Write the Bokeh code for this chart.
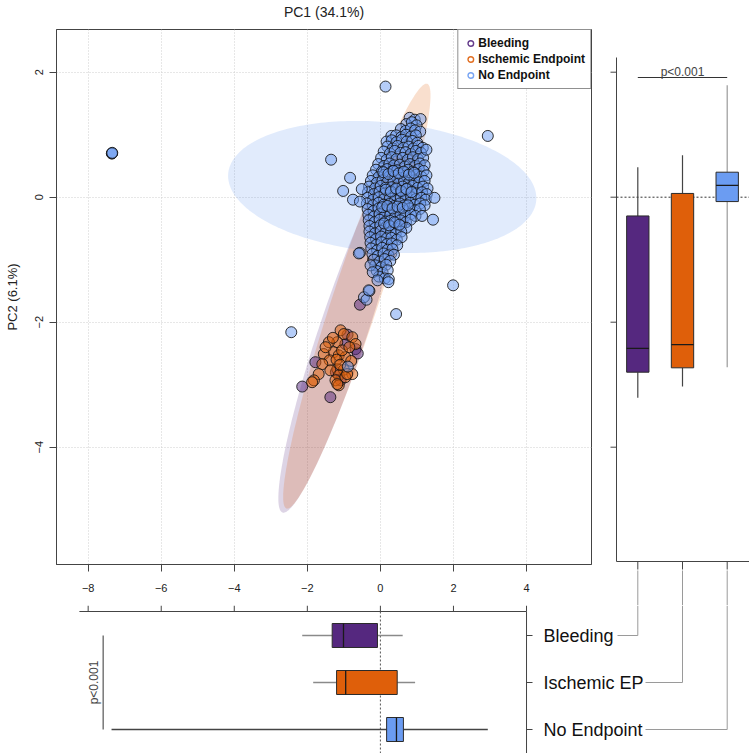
import numpy as np
from bokeh.plotting import figure
from bokeh.models import Range1d, FixedTicker, LinearAxis, Legend, LegendItem
from bokeh.layouts import column, row
from bokeh.embed import file_html
from bokeh.resources import INLINE
from bokeh.core.properties import value

FONT = "Liberation Sans"

# ---------------- data ----------------
groups = ["Bleeding", "Ischemic Endpoint", "No Endpoint"]
short_labels = ["Bleeding", "Ischemic EP", "No Endpoint"]
colors = ["#55287f", "#df5f0a", "#6b9cf2"]

bleed_pc1 = [-0.56, -0.96, -0.68, -1.78, -2.14, -1.37, -1.09, -0.62, -1.22, -0.90,
             0.05, 0.35, -0.10, 0.55]
bleed_pc2 = [-1.72, -2.35, -2.43, -2.64, -3.03, -3.20, -2.93, -2.50, -2.80, -2.20,
             -0.25, 0.45, -0.60, 0.10]

isch_pc1 = [-1.09, -1.00, -0.77, -0.68, -1.18, -1.41, -1.28, -1.55, -1.14, -0.96,
            -1.39, -1.59, -1.18, -1.37, -1.00, -0.77, -1.14, -1.69, -1.82, -1.87,
            -1.23, -1.14, -0.96, -1.05, -1.20, -1.10, -0.85, -1.30, -0.80, -1.50,
            -0.91, -1.18,
            0.20, 0.50, 0.40, 0.70, 0.00, 0.30, 0.90, 0.60, 0.10, -0.20, 0.45, 0.80]
isch_pc2 = [-2.13, -2.19, -2.24, -2.35, -2.32, -2.32, -2.48, -2.51, -2.53, -2.56,
            -2.61, -2.67, -2.75, -2.77, -2.76, -2.83, -2.85, -2.83, -2.93, -2.96,
            -2.93, -3.01, -2.88, -2.45, -2.60, -2.68, -2.40, -2.25, -2.62, -2.40,
            -2.83, -2.99,
            0.30, 0.60, -0.20, 0.10, -0.50, -0.90, 0.50, -0.40, 0.05, -1.00, 0.20, 0.65]

none_pc1 = [
    0.80, 0.94, 1.10,
    0.71, 0.86, 0.99,
    0.56, 0.69, 0.83, 0.95, 1.09,
    0.30, 0.43, 0.57, 0.70, 0.84, 0.97,
    0.17, 0.31, 0.44, 0.59, 0.72, 0.87, 1.01,
    0.19, 0.34, 0.47, 0.63, 0.77, 0.90, 1.04, 1.16,
    0.09, 0.26, 0.39, 0.55, 0.69, 0.83, 0.97, 1.11,
    0.02, 0.17, 0.31, 0.44, 0.61, 0.75, 0.89, 1.03, 1.17,
    -0.06, 0.10, 0.25, 0.37, 0.53, 0.67, 0.81, 0.95, 1.08, 1.21,
    -0.12, 0.04, 0.18, 0.33, 0.46, 0.62, 0.76, 0.89, 1.05, 1.18,
    -0.21, -0.05, 0.11, 0.24, 0.41, 0.55, 0.71, 0.84, 0.99, 1.12, 1.26,
    -0.26, -0.10, 0.06, 0.19, 0.36, 0.50, 0.65, 0.78, 0.93, 1.06, 1.21,
    -0.31, -0.15, 0.01, 0.14, 0.31, 0.45, 0.61, 0.73, 0.89, 1.02, 1.17, 1.29,
    -0.34, -0.18, -0.02, 0.12, 0.28, 0.42, 0.58, 0.71, 0.86, 0.99, 1.14, 1.27,
    -0.36, -0.20, -0.04, 0.10, 0.26, 0.40, 0.56, 0.69, 0.84, 0.97, 1.12, 1.24,
    -0.37, -0.21, -0.05, 0.09, 0.25, 0.38, 0.53, 0.66, 0.81, 0.94, 1.09, 1.21,
    -0.35, -0.19, -0.05, 0.11, 0.24, 0.39, 0.52, 0.67, 0.80, 0.95, 1.08,
    -0.33, -0.18, -0.02, 0.12, 0.27, 0.40, 0.55, 0.68, 0.83, 0.96,
    -0.32, -0.16, -0.02, 0.14, 0.27, 0.42, 0.55, 0.70, 0.83,
    -0.30, -0.14, 0.00, 0.15, 0.28, 0.43, 0.56, 0.71,
    -0.30, -0.15, 0.01, 0.14, 0.29, 0.42, 0.57,
    -0.28, -0.12, 0.02, 0.17, 0.30, 0.45, 0.58,
    -0.27, -0.11, 0.03, 0.18, 0.31, 0.46,
    -0.25, -0.09, 0.05, 0.20, 0.33,
    -0.22, -0.07, 0.09, 0.22, 0.37,
    -0.18, -0.02, 0.12, 0.27,
    -0.14, 0.02, 0.16,
    -0.10, 0.06, 0.20,
    -0.04, 0.12,
    0.08, 0.22, 0.36, 0.50, 0.64, 0.78, 0.92, 0.15, 0.29, 0.43, 0.57, 0.71, 0.85,
    0.05, 0.19, 0.33, 0.47, 0.61, 0.75, 0.10, 0.24, 0.38, 0.52,
    -7.35, -7.35, -7.34, 0.14, 2.94, 1.99, 0.43, -2.44, -1.35, -0.83, -1.02,
    -0.75, -0.56, -0.51, -0.56, -0.27, -0.21, 0.23, 1.26, 1.48, 1.44, 1.14,
    -0.30, -0.45, -0.38, -0.08, 0.22, -0.89, -0.32, -0.59,
]
none_pc2 = [
    1.27, 1.24, 1.25,
    1.17, 1.20, 1.15,
    1.09, 1.06, 1.10, 1.07, 1.05,
    0.98, 0.99, 0.96, 1.00, 0.97, 0.99,
    0.89, 0.91, 0.88, 0.92, 0.89, 0.90, 0.87,
    0.81, 0.78, 0.82, 0.79, 0.81, 0.78, 0.82, 0.79,
    0.73, 0.70, 0.74, 0.71, 0.72, 0.69, 0.74, 0.71,
    0.63, 0.60, 0.64, 0.61, 0.63, 0.60, 0.64, 0.61, 0.63,
    0.53, 0.50, 0.54, 0.51, 0.52, 0.49, 0.53, 0.50, 0.54, 0.51,
    0.44, 0.41, 0.45, 0.42, 0.43, 0.40, 0.44, 0.41, 0.45, 0.42,
    0.35, 0.32, 0.36, 0.33, 0.34, 0.31, 0.35, 0.32, 0.36, 0.33, 0.35,
    0.26, 0.23, 0.27, 0.24, 0.25, 0.22, 0.26, 0.23, 0.27, 0.24, 0.26,
    0.17, 0.14, 0.18, 0.15, 0.16, 0.13, 0.17, 0.14, 0.18, 0.15, 0.17, 0.14,
    0.08, 0.05, 0.09, 0.06, 0.07, 0.04, 0.08, 0.05, 0.09, 0.06, 0.08, 0.05,
    -0.01, -0.04, 0.00, -0.03, -0.02, -0.05, -0.01, -0.04, 0.00, -0.03, -0.01, -0.04,
    -0.10, -0.13, -0.09, -0.12, -0.11, -0.14, -0.10, -0.13, -0.09, -0.12, -0.10, -0.13,
    -0.19, -0.22, -0.18, -0.21, -0.20, -0.23, -0.19, -0.22, -0.18, -0.21, -0.19,
    -0.28, -0.31, -0.27, -0.30, -0.29, -0.32, -0.28, -0.31, -0.27, -0.30,
    -0.37, -0.40, -0.36, -0.39, -0.38, -0.41, -0.37, -0.40, -0.36,
    -0.46, -0.49, -0.45, -0.48, -0.47, -0.50, -0.46, -0.49,
    -0.55, -0.58, -0.54, -0.57, -0.56, -0.59, -0.55,
    -0.64, -0.67, -0.63, -0.66, -0.65, -0.68, -0.64,
    -0.73, -0.76, -0.72, -0.75, -0.74, -0.77,
    -0.82, -0.85, -0.81, -0.84, -0.83,
    -0.91, -0.94, -0.90, -0.93, -0.92,
    -1.00, -1.03, -0.99, -1.02,
    -1.09, -1.12, -1.08,
    -1.18, -1.21, -1.17,
    -1.27, -1.30,
    0.40, 0.37, 0.42, 0.38, 0.41, 0.36, 0.39, 0.12, 0.09, 0.14, 0.10, 0.13, 0.08,
    -0.16, -0.14, -0.18, -0.15, -0.17, -0.13, -0.42, -0.45, -0.40, -0.44,
    0.70, 0.70, 0.71, 1.77, 0.98, -1.41, -1.87, -2.16, 0.60, 0.31, 0.10,
    -0.04, -0.07, 0.13, -0.89, -1.09, -1.20, -1.31, 0.76, -0.01, -0.36, -0.30,
    -1.50, -1.60, -1.64, -1.33, -1.36, -2.71, -1.49, -0.90,
]

# box statistics: whisker low, Q1, median, Q3, whisker high
pc1_lo = [-2.14, -1.84, -7.36]
pc1_q1 = [-1.32, -1.20, 0.17]
pc1_med = [-1.01, -0.95, 0.44]
pc1_q3 = [-0.08, 0.46, 0.63]
pc1_hi = [0.61, 0.95, 2.94]

pc2_lo = [-3.21, -3.03, -2.72]
pc2_q1 = [-2.80, -2.73, -0.07]
pc2_med = [-2.42, -2.36, 0.19]
pc2_q3 = [-0.30, 0.06, 0.40]
pc2_hi = [0.48, 0.67, 1.79]

# confidence ellipses: centre and two conjugate semi-axis vectors (data units)
ell_cx = [-1.024, -0.645, 0.050]
ell_cy = [-2.149, -1.583, 0.163]
ell_ux = [1.656, 1.926, 4.216]
ell_uy = [2.896, 3.398, -0.216]
ell_vx = [0.624, 0.598, -0.155]
ell_vy = [-0.122, -0.116, -1.035]

x_ticks = [-8, -6, -4, -2, 0, 2, 4]
y_ticks = [-4, -2, 0, 2]
p_text = "p<0.001"

# ---------------- layout calibration (page pixels) ----------------
PX_X0, PX_PER_X = 379.9, 36.53
PX_Y0, PX_PER_Y = 196.7, 62.5


def xdat(px):
    return (px - PX_X0) / PX_PER_X


def ydat(py):
    return (PX_Y0 - py) / PX_PER_Y


CAT_PX1, CAT_STEP = 637.3, 44.7     # right boxplot category spacing
ROW_PX1, ROW_STEP = 635.0, 47.0     # bottom boxplot row spacing


def cat_of(px):
    return 1 + (px - CAT_PX1) / CAT_STEP


def row_of(py):
    return 1 + (py - ROW_PX1) / ROW_STEP


AXIS_COLOR = "#444444"
TEXT_COLOR = "#222222"
CONN_COLOR = "#9a9a9a"
SPLIT_Y = 605          # page row where the top row of panels ends
RIGHT_X = 607          # page column where the right panel starts
PAGE_W, PAGE_H = 749, 753

# ---------------- main PCA scatter ----------------
p = figure(frame_width=591 - 56, frame_height=564 - 29, output_backend="svg",
           toolbar_location=None,
           x_range=Range1d(xdat(56), xdat(591)), y_range=Range1d(ydat(564), ydat(29)),
           min_border_left=56, min_border_right=RIGHT_X - 591, min_border_top=29,
           min_border_bottom=SPLIT_Y - 564)

p.outline_line_color = AXIS_COLOR
p.outline_line_alpha = 1
p.xaxis.ticker = FixedTicker(ticks=x_ticks)
p.yaxis.ticker = FixedTicker(ticks=y_ticks)
for ax in (p.xaxis, p.yaxis):
    ax.axis_line_color = AXIS_COLOR
    ax.major_tick_line_color = AXIS_COLOR
    ax.minor_tick_line_color = None
    ax.major_tick_out = 7
    ax.major_tick_in = 0
    ax.major_label_text_font = FONT
    ax.major_label_text_font_size = "11px"
    ax.major_label_text_color = TEXT_COLOR
p.xaxis.major_label_standoff = 12
p.yaxis.major_label_standoff = 6
p.yaxis.major_label_orientation = "vertical"
p.yaxis.axis_label = "PC2 (6.1%)"
p.yaxis.axis_label_text_font = FONT
p.yaxis.axis_label_text_font_size = "13px"
p.yaxis.axis_label_text_font_style = "normal"
p.yaxis.axis_label_text_color = TEXT_COLOR
p.yaxis.axis_label_standoff = 13

top_axis = LinearAxis(ticker=FixedTicker(ticks=[]), axis_line_color=None,
                      major_tick_line_color=None, minor_tick_line_color=None,
                      axis_label="PC1 (34.1%)", axis_label_text_font=FONT,
                      axis_label_text_font_size="14px", axis_label_text_font_style="normal",
                      axis_label_text_color=TEXT_COLOR, axis_label_standoff=10)
p.add_layout(top_axis, "above")

p.grid.grid_line_color = "#cfcfcf"
p.grid.grid_line_dash = "1 2"
p.grid.grid_line_width = 1

t = np.linspace(0, 2 * np.pi, 241)
for i in range(3):
    ex = ell_cx[i] + ell_ux[i] * np.cos(t) + ell_vx[i] * np.sin(t)
    ey = ell_cy[i] + ell_uy[i] * np.cos(t) + ell_vy[i] * np.sin(t)
    p.patch(ex, ey, fill_color=colors[i], fill_alpha=0.2, line_color=None)

point_sets = [(bleed_pc1, bleed_pc2), (isch_pc1, isch_pc2), (none_pc1, none_pc2)]
legend_items = []
for i, (xs, ys) in enumerate(point_sets):
    p.scatter(xs, ys, marker="circle", size=11, fill_color=colors[i], fill_alpha=0.5,
              line_color="#111111", line_alpha=0.85, line_width=1)
    # hollow legend key (zero-size markers, so nothing extra shows in the plot)
    key = p.scatter(xs, ys, marker="circle", size=0, fill_color=None, line_color=colors[i],
                    line_width=1.4, line_alpha=0.9)
    legend_items.append(LegendItem(label=groups[i], renderers=[key]))

legend = Legend(items=legend_items, location="top_right", margin=0, padding=5, spacing=0,
                glyph_width=14, glyph_height=16, label_height=16, label_standoff=1,
                label_text_font=FONT, label_text_font_size="12px",
                label_text_font_style="bold", label_text_color="#111111",
                border_line_color="#222222", border_line_width=1,
                background_fill_color="white", background_fill_alpha=1)
p.add_layout(legend)

# ---------------- right: PC2 boxplots ----------------
pr = figure(frame_width=PAGE_W - RIGHT_X, frame_height=SPLIT_Y, output_backend="svg",
            toolbar_location=None, title=None,
            x_range=Range1d(cat_of(RIGHT_X), cat_of(PAGE_W)),
            y_range=Range1d(ydat(SPLIT_Y), ydat(0)),
            x_axis_location=None, y_axis_location=None,
            min_border=0, min_border_left=0, min_border_right=0,
            min_border_top=0, min_border_bottom=0)
pr.outline_line_color = None
pr.grid.visible = False

cat_idx = [1, 2, 3]
BOX_W = 0.50
ax_x = cat_of(616)
base_y = ydat(561)
# axis lines and ticks (left and bottom of the panel)
pr.segment(x0=[ax_x], y0=[base_y], x1=[ax_x], y1=[ydat(57)], line_color=AXIS_COLOR)
pr.segment(x0=[cat_of(610)] * 4, y0=y_ticks, x1=[ax_x] * 4, y1=y_ticks, line_color=AXIS_COLOR)
pr.segment(x0=[ax_x], y0=[base_y], x1=[cat_of(PAGE_W)], y1=[base_y], line_color=AXIS_COLOR)
pr.segment(x0=cat_idx, y0=[base_y] * 3, x1=cat_idx, y1=[ydat(569)] * 3, line_color=AXIS_COLOR)
pr.segment(x0=cat_idx, y0=[ydat(570)] * 3, x1=cat_idx, y1=[ydat(SPLIT_Y)] * 3,
           line_color=CONN_COLOR)
# zero reference
pr.segment(x0=[ax_x], y0=[0], x1=[cat_of(PAGE_W)], y1=[0], line_color="#333333",
           line_dash="2 2", line_width=1)

whisk_v = ["#444444", "#444444", "#9a9a9a"]
pr.segment(x0=cat_idx, y0=pc2_q3, x1=cat_idx, y1=pc2_hi, line_color=whisk_v, line_width=1.2)
pr.segment(x0=cat_idx, y0=pc2_lo, x1=cat_idx, y1=pc2_q1, line_color=whisk_v, line_width=1.2)
pr.vbar(x=cat_idx, bottom=pc2_q1, top=pc2_q3, width=BOX_W, fill_color=colors,
        line_color="#2b2b2b", line_width=1)
pr.segment(x0=[c - BOX_W / 2 for c in cat_idx], y0=pc2_med,
           x1=[c + BOX_W / 2 for c in cat_idx], y1=pc2_med, line_color="#1a1a1a", line_width=1.3)
p_y = ydat(77)
pr.segment(x0=[1], y0=[p_y], x1=[3], y1=[p_y], line_color="#333333", line_width=1)
pr.text(x=[2], y=[p_y], text=[p_text], text_align="center", text_baseline="bottom",
        y_offset=1, text_font=value(FONT), text_font_size="12px", text_color="#444444")

# ---------------- bottom: PC1 boxplots ----------------
pb = figure(frame_width=PAGE_W, frame_height=PAGE_H - SPLIT_Y, output_backend="svg",
            toolbar_location=None, title=None,
            x_range=Range1d(xdat(0), xdat(PAGE_W)),
            y_range=Range1d(row_of(PAGE_H), row_of(SPLIT_Y)),
            x_axis_location=None, y_axis_location=None,
            min_border=0, min_border_left=0, min_border_right=0,
            min_border_top=0, min_border_bottom=0)
pb.outline_line_color = None
pb.grid.visible = False
pb.extra_x_ranges = {"cat": Range1d(cat_of(0), cat_of(PAGE_W))}

row_idx = [1, 2, 3]
AXIS_START, AXIS_END = -8.24, 4.0
BOX_H = 0.51
line_y = row_of(611)
# top axis (shares the PC1 scale) and right-hand category axis
pb.segment(x0=[AXIS_START], y0=[line_y], x1=[AXIS_END], y1=[line_y], line_color=AXIS_COLOR)
pb.segment(x0=x_ticks, y0=[row_of(SPLIT_Y)] * len(x_ticks), x1=x_ticks,
           y1=[line_y] * len(x_ticks), line_color=AXIS_COLOR)
pb.segment(x0=[AXIS_END], y0=[line_y], x1=[AXIS_END], y1=[row_of(PAGE_H)],
           line_color=AXIS_COLOR)
pb.ray(x=[AXIS_END] * 3, y=row_idx, length=6, length_units="screen", angle=0,
       line_color=AXIS_COLOR, line_width=1)
pb.text(x=[AXIS_END] * 3, y=row_idx, text=short_labels, x_offset=17, text_align="left",
        text_baseline="middle", text_font=value(FONT), text_font_size="18px",
        text_color="#111111")
# zero reference
pb.segment(x0=[0], y0=[line_y], x1=[0], y1=[row_of(PAGE_H)], line_color="#555555",
           line_dash="2 2", line_width=1)

whisk_h = ["#8a8a8a", "#8a8a8a", "#444444"]
pb.segment(x0=pc1_lo, y0=row_idx, x1=pc1_q1, y1=row_idx, line_color=whisk_h, line_width=1.5)
pb.segment(x0=pc1_q3, y0=row_idx, x1=pc1_hi, y1=row_idx, line_color=whisk_h, line_width=1.5)
pb.hbar(y=row_idx, left=pc1_q1, right=pc1_q3, height=BOX_H, fill_color=colors,
        line_color="#2b2b2b", line_width=1)
pb.segment(x0=pc1_med, y0=[r - BOX_H / 2 for r in row_idx], x1=pc1_med,
           y1=[r + BOX_H / 2 for r in row_idx], line_color="#1a1a1a", line_width=1.3)

BRACKET_X = -7.59
pb.segment(x0=[BRACKET_X], y0=[1], x1=[BRACKET_X], y1=[3], line_color="#333333", line_width=1)
pb.text(x=[BRACKET_X], y=[2], text=[p_text], angle=np.pi / 2, text_align="center",
        text_baseline="bottom", x_offset=-2, text_font=value(FONT), text_font_size="12px",
        text_color="#444444")

# connectors from the labels up to the PC2 boxplot categories
label_end_px = [617, 645, 645]
pb.segment(x0=cat_idx, y0=[row_of(SPLIT_Y)] * 3, x1=cat_idx, y1=row_idx, x_range_name="cat",
           line_color=CONN_COLOR, line_width=1)
pb.segment(x0=[cat_of(px) for px in label_end_px], y0=row_idx, x1=cat_idx, y1=row_idx,
           x_range_name="cat", line_color=CONN_COLOR, line_width=1)

# nesting the right panel in its own column keeps its frame from being aligned
# with the scatter's frame
layout = column(row(p, column(pr)), pb)
open("out.html", "w").write(file_html(layout, INLINE))
